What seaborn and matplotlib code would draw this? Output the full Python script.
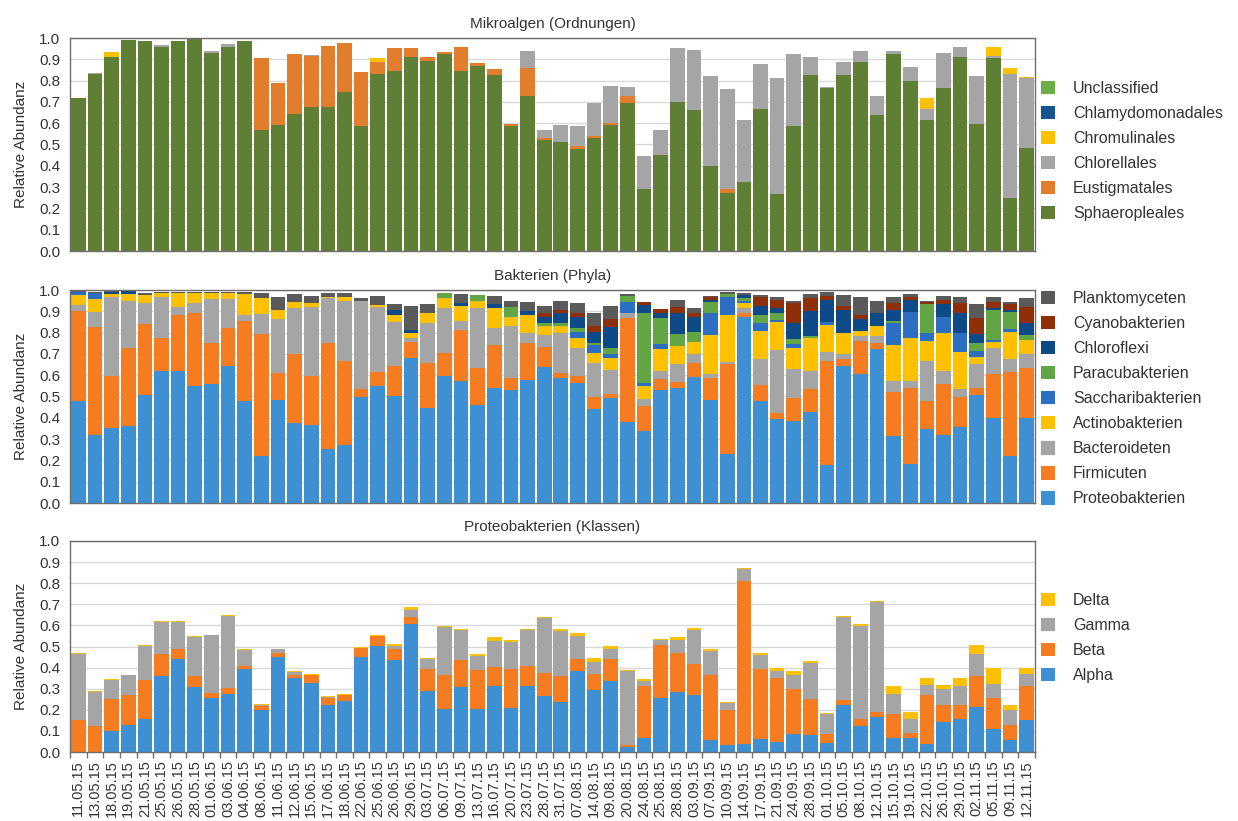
import numpy as np
import pandas as pd
import matplotlib
matplotlib.use("Agg")
import matplotlib.pyplot as plt
import seaborn as sns
from matplotlib.patches import Patch

dates = ["11.05.15", "13.05.15", "18.05.15", "19.05.15", "21.05.15", "25.05.15", "26.05.15", "28.05.15",
         "01.06.15", "03.06.15", "04.06.15", "08.06.15", "11.06.15", "12.06.15", "15.06.15", "17.06.15",
         "18.06.15", "22.06.15", "25.06.15", "26.06.15", "29.06.15", "03.07.15", "06.07.15", "09.07.15",
         "13.07.15", "16.07.15", "20.07.15", "23.07.15", "28.07.15", "31.07.15", "07.08.15", "14.08.15",
         "09.08.15", "20.08.15", "24.08.15", "25.08.15", "28.08.15", "03.09.15", "07.09.15", "10.09.15",
         "14.09.15", "17.09.15", "21.09.15", "24.09.15", "28.09.15", "01.10.15", "05.10.15", "08.10.15",
         "12.10.15", "15.10.15", "19.10.15", "22.10.15", "26.10.15", "29.10.15", "02.11.15", "05.11.15",
         "09.11.15", "12.11.15"]

# ---------------- Mikroalgen (Ordnungen) ----------------
sphaeropleales = [0.716, 0.83, 0.91, 0.99, 0.985, 0.96, 0.985, 0.995, 0.93, 0.96, 0.985, 0.566, 0.59, 0.644,
                  0.677, 0.677, 0.747, 0.586, 0.83, 0.844, 0.909, 0.89, 0.927, 0.844, 0.87, 0.828, 0.589, 0.727,
                  0.519, 0.511, 0.48, 0.531, 0.59, 0.695, 0.289, 0.45, 0.698, 0.664, 0.398, 0.273, 0.323, 0.669,
                  0.266, 0.586, 0.828, 0.766, 0.825, 0.886, 0.64, 0.927, 0.80, 0.617, 0.763, 0.909, 0.594, 0.906,
                  0.25, 0.484]
eustigmatales = [0, 0, 0, 0, 0, 0, 0, 0, 0, 0, 0, 0.34, 0.20, 0.283, 0.237, 0.287, 0.23, 0.254, 0.058, 0.109,
                 0.044, 0.02, 0.006, 0.114, 0.013, 0.027, 0.005, 0.133, 0.012, 0, 0.015, 0.011, 0.01, 0.035, 0, 0,
                 0, 0, 0, 0.016, 0, 0, 0, 0, 0, 0, 0, 0, 0, 0, 0, 0, 0, 0, 0.003, 0, 0, 0]
chlorellales = [0.004, 0.005, 0, 0, 0, 0.007, 0, 0, 0.01, 0.01, 0.003, 0, 0, 0, 0.005, 0, 0, 0, 0, 0, 0, 0, 0,
                0, 0, 0, 0, 0.078, 0.039, 0.079, 0.091, 0.153, 0.173, 0.04, 0.156, 0.12, 0.255, 0.281, 0.422,
                0.472, 0.294, 0.211, 0.546, 0.341, 0.083, 0.005, 0.063, 0.051, 0.09, 0.013, 0.064, 0.052, 0.167,
                0.049, 0.223, 0.011, 0.583, 0.328]
chromulinales = [0, 0, 0.025, 0, 0, 0, 0, 0, 0, 0, 0, 0, 0, 0, 0, 0, 0, 0, 0.018, 0, 0, 0, 0, 0, 0, 0, 0, 0,
                 0, 0, 0, 0, 0, 0, 0, 0, 0, 0, 0, 0, 0, 0, 0, 0, 0, 0, 0, 0, 0, 0, 0, 0.047, 0, 0, 0, 0.041,
                 0.027, 0.004]
chlamydomonadales = [0, 0, 0, 0, 0, 0, 0, 0.005, 0, 0, 0, 0, 0, 0, 0, 0, 0, 0, 0, 0, 0, 0, 0, 0, 0, 0, 0, 0,
                     0, 0, 0, 0, 0, 0, 0, 0, 0, 0, 0, 0, 0, 0, 0, 0, 0, 0, 0, 0, 0, 0, 0, 0, 0, 0, 0, 0, 0, 0]
unclassified = [0] * 58

# ---------------- Bakterien (Phyla) ----------------
proteobakterien = [0.48, 0.32, 0.35, 0.3625, 0.505, 0.62, 0.62, 0.547, 0.558, 0.645, 0.48, 0.219, 0.484, 0.375,
                   0.364, 0.255, 0.27, 0.497, 0.55, 0.503, 0.683, 0.445, 0.598, 0.575, 0.461, 0.542, 0.531,
                   0.578, 0.64, 0.586, 0.5625, 0.44, 0.495, 0.378, 0.34, 0.531, 0.542, 0.59, 0.484, 0.231,
                   0.872, 0.477, 0.394, 0.386, 0.427, 0.18, 0.644, 0.605, 0.722, 0.3125, 0.184, 0.348, 0.317,
                   0.355, 0.508, 0.398, 0.223, 0.398]
firmicuten = [0.423, 0.505, 0.244, 0.3645, 0.334, 0.153, 0.263, 0.347, 0.195, 0.178, 0.375, 0.575, 0.1285,
              0.323, 0.234, 0.495, 0.399, 0.039, 0.064, 0.141, 0.072, 0.214, 0.105, 0.2375, 0.172, 0.2, 0.058,
              0.175, 0.091, 0.023, 0.0345, 0.057, 0.016, 0.492, 0.116, 0.05, 0.025, 0.066, 0.102, 0.422, 0.022,
              0.075, 0.028, 0.106, 0.109, 0.487, 0.031, 0.156, 0.031, 0.2065, 0.358, 0.132, 0.242, 0.142, 0.034,
              0.208, 0.391, 0.238]
bacteroideten = [0.027, 0.07, 0.372, 0.221, 0.101, 0.196, 0.037, 0.0435, 0.205, 0.135, 0.028, 0.0935, 0.25,
                 0.216, 0.321, 0.211, 0.281, 0.414, 0.306, 0.208, 0.018, 0.188, 0.211, 0.0435, 0.281, 0.078,
                 0.241, 0.047, 0.058, 0.191, 0.13, 0.162, 0.114, 0.02, 0.0315, 0.039, 0.085, 0.042, 0.02, 0.011,
                 0.023, 0.125, 0.297, 0.138, 0.084, 0.044, 0.025, 0.023, 0.033, 0.056, 0.033, 0.187, 0.061, 0.039,
                 0.11, 0.124, 0.061, 0.064]
actinobakterien = [0.047, 0.061, 0.014, 0.032, 0.037, 0.015, 0.064, 0.0465, 0.026, 0.026, 0.097, 0.0765,
                   0.0435, 0.031, 0.0185, 0.008, 0.016, 0, 0.01, 0.031, 0.024, 0.047, 0.05, 0.069, 0.034, 0.094,
                   0.045, 0.083, 0.041, 0.03, 0.046, 0.044, 0.058, 0, 0.0625, 0.102, 0.087, 0.06, 0.183, 0.219,
                   0.023, 0.131, 0.129, 0.1, 0.153, 0.125, 0.097, 0.024, 0.047, 0.167, 0.198, 0.094, 0.18, 0.175,
                   0.0355, 0.028, 0.13, 0.066]
saccharibakterien = [0.015, 0.031, 0, 0, 0, 0, 0, 0, 0, 0, 0, 0, 0, 0, 0, 0, 0, 0, 0, 0, 0, 0, 0, 0, 0, 0, 0,
                     0, 0, 0, 0.032, 0.039, 0.015, 0.055, 0.0125, 0.025, 0, 0, 0.101, 0.086, 0.01, 0.039, 0.011,
                     0.017, 0, 0.016, 0, 0, 0, 0.102, 0.125, 0.039, 0.073, 0.089, 0.0265, 0.008, 0.011, 0]
paracubakterien = [0, 0, 0, 0, 0, 0, 0, 0, 0, 0, 0, 0, 0, 0, 0, 0, 0, 0, 0, 0, 0, 0, 0.02, 0, 0.029, 0, 0.044,
                   0, 0.015, 0.017, 0.015, 0.011, 0.029, 0.027, 0.3275, 0.123, 0.053, 0.047, 0.052, 0.011,
                   0.014, 0.036, 0.031, 0.023, 0.013, 0, 0, 0, 0, 0.012, 0, 0.133, 0, 0, 0.039, 0.14, 0.079,
                   0.023]
chloroflexi = [0, 0, 0.01, 0.02, 0, 0, 0, 0, 0, 0, 0, 0, 0, 0, 0, 0, 0, 0, 0, 0.023, 0.0155, 0, 0, 0.015, 0,
               0.02, 0, 0.017, 0.03, 0.043, 0.055, 0.052, 0.101, 0, 0.04, 0.024, 0.098, 0.07, 0.011, 0, 0.011,
               0.044, 0.027, 0.077, 0.114, 0.101, 0.109, 0.056, 0.057, 0.05, 0.055, 0, 0.06, 0.09, 0.039, 0.008,
               0.01, 0.055]
cyanobakterien = [0, 0, 0, 0, 0, 0, 0, 0, 0, 0, 0, 0, 0, 0, 0, 0, 0, 0, 0, 0, 0, 0, 0, 0, 0, 0, 0, 0, 0.019,
                  0.016, 0.015, 0.025, 0.036, 0, 0.015, 0.015, 0.032, 0.019, 0.013, 0, 0, 0.042, 0.036, 0.0905,
                  0.061, 0.02, 0.021, 0.019, 0, 0.0315, 0.016, 0.012, 0.02, 0.0475, 0.075, 0.0315, 0.028, 0.078]
planktomyceten = [0.003, 0.003, 0.01, 0, 0.0105, 0.006, 0.006, 0.006, 0.006, 0.006, 0.01, 0.0235, 0.063, 0.035,
                  0.0355, 0.0185, 0.0215, 0.014, 0.042, 0.028, 0.1145, 0.04, 0, 0.04, 0, 0.038, 0.031, 0.042,
                  0.033, 0.044, 0.0475, 0.06, 0.063, 0.008, 0, 0, 0.031, 0.023, 0.007, 0.012, 0.009, 0.008,
                  0.013, 0.0125, 0.019, 0.019, 0.05, 0.086, 0.058, 0.0285, 0.011, 0.005, 0.019, 0.0315, 0.066,
                  0.0205, 0.012, 0.042]

# ---------------- Proteobakterien (Klassen) ----------------
alpha = [0, 0, 0.10, 0.126, 0.158, 0.36, 0.439, 0.31, 0.255, 0.277, 0.392, 0.20, 0.452, 0.35, 0.327, 0.221,
         0.242, 0.452, 0.503, 0.435, 0.605, 0.29, 0.206, 0.306, 0.206, 0.311, 0.21, 0.311, 0.266, 0.239, 0.384,
         0.294, 0.335, 0.024, 0.065, 0.255, 0.285, 0.269, 0.056, 0.035, 0.04, 0.06, 0.048, 0.084, 0.081, 0.044,
         0.223, 0.124, 0.166, 0.068, 0.065, 0.04, 0.14, 0.158, 0.215, 0.108, 0.056, 0.15]
beta = [0.15, 0.121, 0.153, 0.145, 0.181, 0.103, 0.048, 0.048, 0.024, 0.025, 0.016, 0.018, 0.016, 0.016, 0.036,
        0.037, 0.029, 0.043, 0.045, 0.054, 0.035, 0.102, 0.16, 0.129, 0.184, 0.092, 0.185, 0.095, 0.108, 0.121,
        0.055, 0.077, 0.105, 0.011, 0.246, 0.253, 0.186, 0.15, 0.307, 0.162, 0.771, 0.335, 0.304, 0.214, 0.172,
        0.04, 0.022, 0.034, 0.023, 0.113, 0.027, 0.231, 0.081, 0.065, 0.145, 0.15, 0.073, 0.161]
gamma = [0.315, 0.164, 0.089, 0.092, 0.164, 0.153, 0.131, 0.186, 0.274, 0.343, 0.076, 0.005, 0.019, 0.013, 0.003,
         0.003, 0, 0, 0, 0.014, 0.034, 0.047, 0.228, 0.141, 0.066, 0.124, 0.124, 0.171, 0.263, 0.213, 0.113,
         0.056, 0.047, 0.349, 0.024, 0.024, 0.061, 0.158, 0.116, 0.037, 0.057, 0.065, 0.03, 0.068, 0.171, 0.097,
         0.395, 0.439, 0.524, 0.096, 0.064, 0.048, 0.077, 0.092, 0.105, 0.065, 0.068, 0.06]
delta = [0.003, 0.005, 0.005, 0.003, 0.005, 0.005, 0.003, 0.004, 0.003, 0.005, 0.003, 0.003, 0.003, 0.003, 0.003,
         0.005, 0.005, 0.005, 0.005, 0.008, 0.011, 0.008, 0.003, 0.005, 0.007, 0.017, 0.013, 0.007, 0.005, 0.012,
         0.013, 0.017, 0.013, 0.003, 0.012, 0.003, 0.012, 0.012, 0.008, 0.003, 0.003, 0.011, 0.016, 0.018, 0.007,
         0.004, 0.005, 0.008, 0.005, 0.038, 0.034, 0.033, 0.021, 0.037, 0.043, 0.075, 0.026, 0.027]

panels = [
    ("Mikroalgen (Ordnungen)",
     [("Sphaeropleales", sphaeropleales, "#5f7f35"),
      ("Eustigmatales", eustigmatales, "#e27d2e"),
      ("Chlorellales", chlorellales, "#a5a5a5"),
      ("Chromulinales", chromulinales, "#ffc000"),
      ("Chlamydomonadales", chlamydomonadales, "#15548f"),
      ("Unclassified", unclassified, "#6fad47")]),
    ("Bakterien (Phyla)",
     [("Proteobakterien", proteobakterien, "#3f8fd3"),
      ("Firmicuten", firmicuten, "#f57c20"),
      ("Bacteroideten", bacteroideten, "#a5a5a5"),
      ("Actinobakterien", actinobakterien, "#ffc000"),
      ("Saccharibakterien", saccharibakterien, "#2c6fc2"),
      ("Paracubakterien", paracubakterien, "#62a544"),
      ("Chloroflexi", chloroflexi, "#0d4a87"),
      ("Cyanobakterien", cyanobakterien, "#8e2f08"),
      ("Planktomyceten", planktomyceten, "#5a5a5a")]),
    ("Proteobakterien (Klassen)",
     [("Alpha", alpha, "#3f8fd3"),
      ("Beta", beta, "#f57c20"),
      ("Gamma", gamma, "#a5a5a5"),
      ("Delta", delta, "#ffc000")]),
]

sns.set_theme(style="white")
plt.rcParams["font.family"] = ["Liberation Sans", "DejaVu Sans"]
txt = "#333333"

fig = plt.figure(figsize=(12.38, 8.21), dpi=100)
axes_rects = [
    [70 / 1238, 1 - 251 / 821, 965 / 1238, 213 / 821],
    [70 / 1238, 1 - 503 / 821, 965 / 1238, 213 / 821],
    [70 / 1238, 1 - 752 / 821, 965 / 1238, 211 / 821],
]
legend_tops = [1 - 81 / 821, 1 - 291 / 821, 1 - 593 / 821]

n = len(dates)
pos = np.arange(n)
for (title, series, ), rect, ltop in zip(panels, axes_rects, legend_tops):
    ax = fig.add_axes(rect)
    names = [s[0] for s in series]
    pal = {s[0]: s[2] for s in series}
    df = pd.DataFrame({
        "pos": np.tile(pos, len(series)),
        "taxon": np.repeat(names, n),
        "value": np.concatenate([np.asarray(s[1], float) for s in series]),
    })
    sns.histplot(data=df, x="pos", weights="value", hue="taxon", hue_order=names[::-1],
                 multiple="stack", discrete=True, shrink=0.88, palette=pal, alpha=1,
                 linewidth=0, legend=False, ax=ax)
    ax.set_xlim(-0.5, n - 0.5)
    ax.set_ylim(0, 1.0)
    ax.set_yticks(np.arange(0, 1.01, 0.1))
    ax.set_yticklabels([f"{v:.1f}" for v in np.arange(0, 1.01, 0.1)], fontsize=11, color=txt)
    ax.yaxis.grid(True, color="#d9d9d9", lw=1)
    ax.xaxis.grid(False)
    ax.set_axisbelow(True)
    ax.set_ylabel("Relative Abundanz", fontsize=11, color=txt, labelpad=8)
    ax.set_xlabel("")
    ax.set_title(title, fontsize=11, color=txt, pad=7)
    for sp in ax.spines.values():
        sp.set_color("#6e6e6e")
        sp.set_linewidth(1)
    ax.tick_params(axis="y", length=3, color="#6e6e6e", pad=4)
    if rect is axes_rects[2]:
        ax.set_xticks(pos)
        ax.set_xticklabels(dates, rotation=90, fontsize=10.5, color=txt)
        ax.tick_params(axis="x", which="major", length=0, pad=6)
        ax.set_xticks(np.arange(-0.5, n, 1), minor=True)
        ax.tick_params(axis="x", which="minor", length=4, color="#6e6e6e", bottom=True)
    else:
        ax.set_xticks([])
    handles = [Patch(facecolor=pal[nm], edgecolor="none") for nm in names[::-1]]
    fig.legend(handles, names[::-1], loc="upper left", bbox_to_anchor=(1041 / 1238, ltop),
               bbox_transform=fig.transFigure, frameon=False, fontsize=11.5,
               handlelength=0.9, handleheight=0.9, handletextpad=1.1, labelspacing=0.62,
               borderpad=0, borderaxespad=0, labelcolor=txt)

fig.savefig("out.png", dpi=100)
